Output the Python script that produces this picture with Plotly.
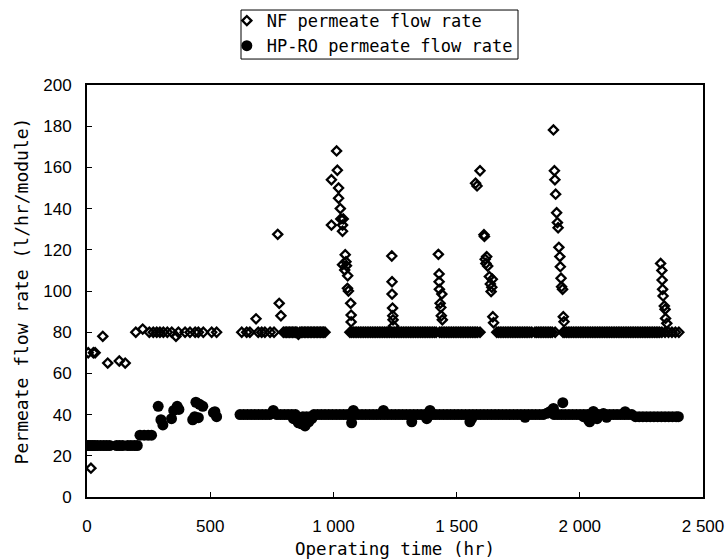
import plotly.graph_objects as go

# ---------------- NF permeate flow rate (open diamonds) ----------------
nf_early_time = [5, 16, 26, 33, 64, 84, 131, 155, 198, 226, 253, 269, 283, 296, 310, 326,
                 344, 361, 371, 398, 418, 439, 452, 472, 506, 526]
nf_early_flow = [70, 14, 70, 70, 78, 65, 66, 65, 80, 81.5, 80, 80, 80, 80, 80, 80,
                 80, 78, 80, 80, 80, 80, 80, 80, 80, 80]

nf_base_time = [628, 648, 661, 695, 709, 722, 743, 759, 797, 804, 810, 816, 822, 828, 834, 840,
                846, 852, 858, 864, 870, 876, 882, 888, 894, 900, 906, 912, 918, 924, 930, 936,
                942, 948, 954, 960, 966,
                1067, 1074, 1081, 1088, 1095, 1102, 1109, 1116, 1123, 1130, 1137, 1144, 1151,
                1158, 1165, 1172, 1179, 1186, 1193, 1200, 1207, 1214, 1221, 1228, 1235, 1242,
                1249, 1256, 1263, 1270, 1277, 1284, 1291, 1298, 1305, 1312, 1319, 1326, 1333,
                1340, 1347, 1354, 1361, 1368, 1375, 1382, 1389, 1396, 1403, 1410, 1417, 1431,
                1438, 1445, 1452, 1459, 1466, 1473, 1480, 1487, 1494, 1501, 1508, 1515, 1522,
                1529, 1536, 1543, 1550, 1557, 1564, 1571, 1578, 1585, 1595,
                1663, 1670, 1677, 1684, 1691, 1698, 1705, 1712, 1719, 1726, 1733, 1740, 1747,
                1754, 1761, 1768, 1775, 1782, 1789, 1797, 1805, 1818, 1825, 1832, 1839, 1846,
                1853, 1860, 1867, 1874, 1881, 1888, 1900,
                1932, 1939, 1946, 1953, 1960, 1967, 1974, 1981, 1988, 1995, 2002, 2009, 2016,
                2023, 2030, 2037, 2044, 2051, 2058, 2065, 2072, 2079, 2086, 2093, 2100, 2107,
                2114, 2121, 2128, 2135, 2142, 2149, 2156, 2163, 2170, 2177, 2184, 2191, 2198,
                2205, 2212, 2219, 2226, 2233, 2240, 2247, 2254, 2261, 2268, 2275, 2282, 2289,
                2296, 2303, 2310, 2317, 2324, 2333, 2346, 2360, 2374, 2388, 2402]
nf_base_flow = [80, 80, 80, 80, 80, 80, 80, 80, 80, 80, 80, 80, 80, 80, 80, 80,
                80, 80, 79, 80, 80, 80, 80, 80, 80, 80, 80, 80, 80, 80, 80, 80,
                80, 80, 80, 80, 80,
                80, 80, 80, 80, 80, 80, 80, 80, 80, 80, 80, 80, 80,
                80, 80, 80, 80, 80, 80, 80, 80, 80, 80, 80, 80, 80,
                80, 80, 80, 80, 80, 80, 80, 80, 80, 80, 80, 80, 80,
                80, 80, 80, 80, 80, 80, 80, 80, 80, 80, 80, 80, 80,
                80, 80, 80, 80, 80, 80, 80, 80, 80, 80, 80, 80, 80,
                80, 80, 80, 80, 80, 80, 80, 80, 80, 80,
                80, 80, 80, 80, 80, 80, 80, 80, 80, 80, 80, 80, 80,
                80, 80, 80, 80, 80, 80, 80, 80, 80, 80, 80, 80, 80,
                80, 80, 80, 80, 80, 80, 80,
                80, 80, 80, 80, 80, 80, 80, 80, 80, 80, 80, 80, 80,
                80, 80, 80, 80, 80, 80, 80, 80, 80, 80, 80, 80, 80,
                80, 80, 80, 80, 80, 80, 80, 80, 80, 80, 80, 80, 80,
                80, 80, 80, 80, 80, 80, 80, 80, 80, 80, 80, 80, 80,
                80, 80, 80, 80, 80, 80, 80, 80, 80, 80, 80]

nf_peak_time = [686, 774, 780, 787,
                992, 992, 1013, 1016, 1021, 1021, 1028, 1030, 1040, 1037, 1037, 1048, 1037,
                1051, 1053, 1046, 1058, 1057, 1061, 1070, 1072, 1072,
                1237, 1238, 1238, 1240, 1241, 1242, 1244,
                1426, 1429, 1429, 1430, 1440, 1433, 1436, 1438, 1442,
                1595, 1577, 1583, 1611, 1613, 1622, 1616, 1619, 1626, 1633, 1645, 1637, 1643,
                1640, 1647, 1650,
                1893, 1897, 1899, 1902, 1906, 1909, 1912, 1915, 1919, 1921, 1924, 1926, 1930,
                1933, 1936,
                2328, 2333, 2334, 2336, 2338, 2343, 2346, 2348, 2353]
nf_peak_flow = [86.5, 127.5, 94, 88,
                154, 132, 168, 158.6, 150, 145, 140, 135, 135, 132, 129, 117.6, 112.8,
                114.2, 112.3, 110.2, 107.4, 101.3, 100, 94, 88.3, 85,
                117, 104.5, 98.5, 91.7, 88, 86, 83,
                117.8, 108.3, 104.5, 100.8, 98.5, 94, 92, 88, 86,
                158.4, 152.3, 151, 127.3, 126.5, 116.7, 115.4, 113.4, 112.1, 107, 105.7, 103.4, 101.8,
                99.7, 87.5, 84.6,
                178.2, 158.4, 154, 147, 138, 133.2, 130.7, 121.2, 116.7, 111.8, 106.2, 102.1, 100.8,
                87.5, 85.1,
                113.4, 110, 105.3, 100.8, 97.6, 92.7, 91.1, 86.7, 84.3]

# ---------------- HP-RO permeate flow rate (filled circles) ----------------
ro_early_time = [0, 8, 16, 24, 32, 42, 55, 68, 80, 92, 120, 132, 145, 165, 178, 192, 204,
                 215, 232, 248, 262,
                 289, 300, 308, 343, 352, 366, 373, 429, 437, 442, 452, 457, 470, 513, 519, 526]
ro_early_flow = [25, 25, 25, 25, 25, 25, 25, 25, 25, 25, 25, 25, 25, 25, 25, 25, 25,
                 30, 30, 30, 30,
                 44, 37.5, 35, 38, 42, 44, 42.5, 37.5, 39, 46, 38.5, 45, 44, 41, 41.4, 39]

ro_band_time = [621, 636, 651, 666, 681, 696, 711, 726, 741, 756, 771, 786, 801, 816, 831, 838,
                846, 855, 858, 870, 876, 885, 891, 900, 906, 912, 921, 936, 951, 966, 981, 996,
                1011, 1026, 1041, 1056, 1071, 1074, 1081, 1086, 1101, 1116, 1131, 1146, 1161,
                1176, 1191, 1203, 1206, 1221, 1236, 1251, 1266, 1281, 1296, 1311, 1318, 1326,
                1341, 1356, 1371, 1379, 1386, 1392, 1401, 1416, 1431, 1446, 1461, 1476, 1491,
                1506, 1521, 1536, 1551, 1554, 1561, 1566, 1581, 1596, 1611, 1626, 1641, 1656,
                1671, 1686, 1701, 1716, 1731, 1746, 1761, 1776, 1778, 1791, 1806, 1821, 1836,
                1851, 1866, 1880, 1893, 1896, 1911, 1926, 1931, 1941, 1956, 1971, 1986, 2001,
                2015, 2016, 2031, 2035, 2040, 2046, 2055, 2061, 2070, 2076, 2091, 2096, 2106,
                2109, 2121, 2136, 2151, 2166, 2181, 2184, 2196, 2211, 2226, 2241, 2256, 2271,
                2286, 2301, 2316, 2331, 2346, 2361, 2376, 2391, 2400]
ro_band_flow = [40, 40, 40, 40, 40, 40, 40, 40, 40, 42, 40, 40, 40, 40, 40, 38,
                40, 37, 36, 35.5, 39, 34.5, 39, 36.5, 39, 38, 40, 40, 40, 40, 40, 40,
                40, 40, 40, 40, 40, 36, 42, 40, 40, 40, 40, 40, 40,
                40, 40, 42, 40, 40, 40, 40, 40, 40, 40, 40, 36.5, 40,
                40, 40, 40, 38, 40, 42, 40, 40, 40, 40, 40, 40, 40,
                40, 40, 40, 40, 36.5, 38, 40, 40, 40, 40, 40, 40, 40,
                40, 40, 40, 40, 40, 40, 40, 40, 38.7, 40, 40, 40, 40,
                40, 40.6, 41.5, 43, 40, 40, 40, 45.8, 40, 40, 40, 40, 40,
                39, 40, 40, 37.5, 36.5, 40, 41.5, 40, 38, 40, 40, 40.5, 40,
                38.7, 40, 40, 40, 40, 40, 41.4, 40, 40, 39, 39, 39, 39,
                39, 39, 39, 39, 39, 39, 39, 39, 39]

x_tick_vals = [0, 500, 1000, 1500, 2000, 2500]
x_tick_text = ["0", "500", "1 000", "1 500", "2 000", "2 500"]
y_tick_vals = [0, 20, 40, 60, 80, 100, 120, 140, 160, 180, 200]

nf_time = nf_early_time + nf_base_time + nf_peak_time
nf_flow = nf_early_flow + nf_base_flow + nf_peak_flow
ro_time = ro_early_time + ro_band_time
ro_flow = ro_early_flow + ro_band_flow

FONT = "DejaVu Sans Mono, monospace"
TICK_FONT = "Liberation Sans, Arial, sans-serif"

fig = go.Figure()
fig.add_trace(go.Scatter(
    x=nf_time, y=nf_flow, mode="markers", name="NF permeate flow rate",
    marker=dict(symbol="diamond-open", size=7, color="black", line=dict(width=2.3, color="black")),
))
fig.add_trace(go.Scatter(
    x=ro_time, y=ro_flow, mode="markers", name="HP-RO permeate flow rate",
    marker=dict(symbol="circle", size=11, color="black", line=dict(width=0)),
))

tick_font = dict(family=TICK_FONT, size=17, color="black")
fig.update_layout(
    width=726, height=560,
    margin=dict(l=87, r=23, t=85, b=63, autoexpand=False),
    paper_bgcolor="white", plot_bgcolor="white",
    font=dict(family=FONT, color="black"),
    showlegend=True,
    legend=dict(
        x=0.227, y=1.199, xanchor="left", yanchor="top",
        borderwidth=0, bgcolor="rgba(0,0,0,0)",
        font=dict(family=FONT, size=17, color="black"),
        tracegroupgap=0, itemwidth=30,
    ),
    shapes=[dict(type="rect", xref="paper", yref="paper",
                 x0=0.25, x1=0.6997, y0=1.063, y1=1.182,
                 line=dict(color="black", width=1), fillcolor="rgba(0,0,0,0)", layer="below")],
    xaxis=dict(
        range=[0, 2500], tickvals=x_tick_vals, ticktext=x_tick_text,
        showline=True, linecolor="black", linewidth=2, mirror=True,
        ticks="inside", ticklen=5, tickcolor="black", tickwidth=1,
        showgrid=False, zeroline=False, tickfont=tick_font, automargin=False,
        ticklabelstandoff=13, ticklabeloverflow="allow",
        title=dict(text="Operating time (hr)", font=dict(family=FONT, size=17.5), standoff=7),
    ),
    yaxis=dict(
        range=[0, 200], tickvals=y_tick_vals,
        showline=True, linecolor="black", linewidth=2, mirror=True,
        ticks="inside", ticklen=5, tickcolor="black", tickwidth=1,
        showgrid=False, zeroline=False, tickfont=tick_font, automargin=False,
        ticklabelstandoff=10,
        title=dict(text="Permeate flow rate (l/hr/module)", font=dict(family=FONT, size=18), standoff=10),
    ),
)

fig.write_html("out.html", config={"displayModeBar": False},
               post_script="document.body.style.margin='0';")
